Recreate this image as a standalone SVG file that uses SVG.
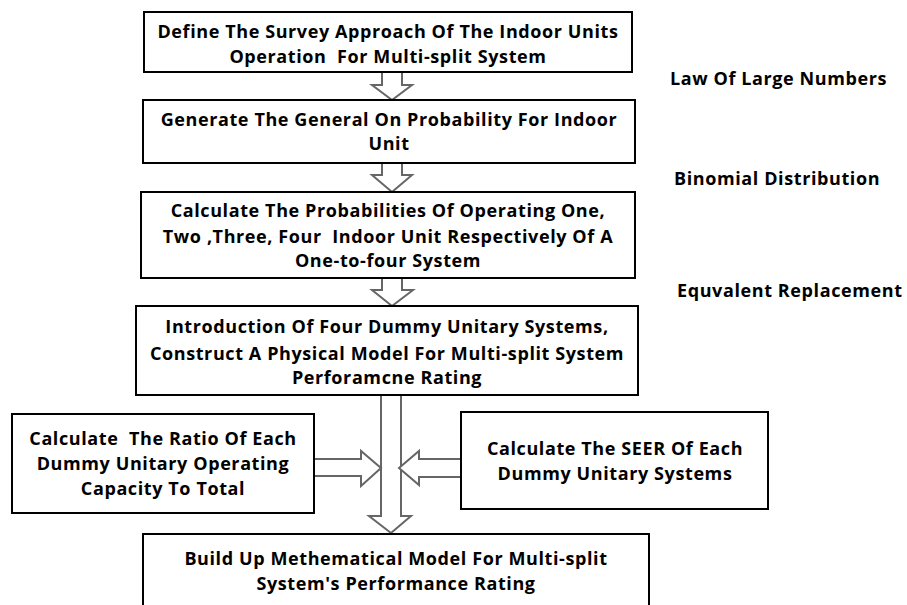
<svg xmlns="http://www.w3.org/2000/svg" width="907" height="605" viewBox="0 0 907 605">
<style>
.box{fill:#fff;stroke:#000;stroke-width:2}
.arr{fill:#fff;stroke:#666;stroke-width:2;stroke-linejoin:miter}
text{font-family:"Open Sans","Liberation Sans",sans-serif;font-weight:bold;font-size:18px;letter-spacing:0.6px;fill:#000;white-space:pre}
.c{text-anchor:middle}
</style>
<rect width="907" height="605" fill="#fff"/>
<g id="connectors">
<polygon class="arr" points="382,72 402,72 402,85 412,85 392,100 372,85 382,85"/>
<polygon class="arr" points="382,163 402,163 402,175 412,175 392,192 372,175 382,175"/>
<polygon class="arr" points="382,278 402,278 402,290 413,290 392,306 372,290 382,290"/>
<polygon class="arr" points="381,395 401,395 401,516 411,516 391,533 369,516 381,516"/>
<polygon class="arr" points="314,459 361,459 361,451 381,468 361,486 361,476 314,476"/>
<polygon class="arr" points="461,459 419,459 419,451 399,468 419,485 419,477 461,477"/>
</g>
<g id="n1"><rect class="box" x="144" y="12" width="488" height="60"/>
<text class="c" x="388" y="38">Define The Survey Approach Of The Indoor Units</text>
<text class="c" x="388" y="63">Operation  For Multi-split System</text></g>
<g id="n2"><rect class="box" x="143" y="100" width="492" height="63"/>
<text class="c" x="389" y="126">Generate The General On Probability For Indoor</text>
<text class="c" x="389" y="150">Unit</text></g>
<g id="n3"><rect class="box" x="141" y="192" width="494" height="86"/>
<text class="c" x="388" y="217">Calculate The Probabilities Of Operating One,</text>
<text class="c" x="388" y="243">Two ,Three, Four  Indoor Unit Respectively Of A</text>
<text class="c" x="388" y="267">One-to-four System</text></g>
<g id="n4"><rect class="box" x="136" y="306" width="502" height="89"/>
<text class="c" x="387" y="333">Introduction Of Four Dummy Unitary Systems,</text>
<text class="c" x="387" y="360">Construct A Physical Model For Multi-split System</text>
<text class="c" x="387" y="384">Perforamcne Rating</text></g>
<g id="n5"><rect class="box" x="12" y="414" width="302" height="99"/>
<text class="c" x="163" y="445">Calculate  The Ratio Of Each</text>
<text class="c" x="163" y="470">Dummy Unitary Operating</text>
<text class="c" x="163" y="495">Capacity To Total</text></g>
<g id="n6"><rect class="box" x="461" y="412" width="307" height="97"/>
<text class="c" x="615" y="455">Calculate The SEER Of Each</text>
<text class="c" x="615" y="480">Dummy Unitary Systems</text></g>
<g id="n7"><rect class="box" x="143" y="534" width="506" height="80"/>
<text class="c" x="396" y="565">Build Up Methematical Model For Multi-split</text>
<text class="c" x="396" y="590">System's Performance Rating</text></g>
<g id="labels">
<text x="670" y="85">Law Of Large Numbers</text>
<text x="674" y="185">Binomial Distribution</text>
<text x="677" y="297">Equvalent Replacement</text>
</g>
</svg>
